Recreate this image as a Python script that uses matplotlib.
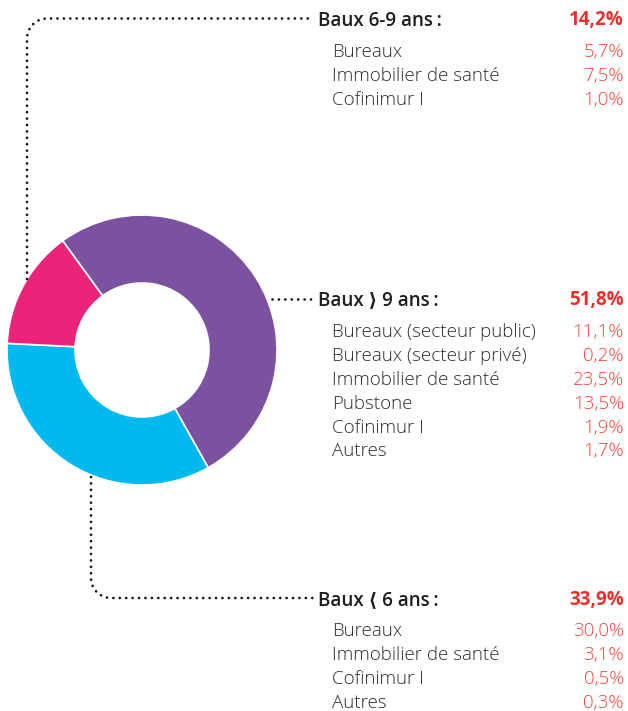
# Lease maturity donut with breakdown labels
import numpy as np
import matplotlib.pyplot as plt

W, H = 628, 711

# data
group_labels = ['Baux 6-9 ans', 'Baux \u27e9 9 ans', 'Baux \u27e8 6 ans']
group_values = [14.2, 51.8, 33.9]
group_colors = ['#ec237a', '#7b52a0', '#00b9ee']

sub_labels = [
    ['Bureaux', 'Immobilier de santé', 'Cofinimur I'],
    ['Bureaux (secteur public)', 'Bureaux (secteur privé)', 'Immobilier de santé',
     'Pubstone', 'Cofinimur I', 'Autres'],
    ['Bureaux', 'Immobilier de santé', 'Cofinimur I', 'Autres'],
]
sub_values = [
    [5.7, 7.5, 1.0],
    [11.1, 0.2, 23.5, 13.5, 1.9, 1.7],
    [30.0, 3.1, 0.5, 0.3],
]

# pixel layout (y measured from top)
header_y = [18.5, 298.5, 598]
pie_cx, pie_cy, pie_r, ring_w = 142, 350, 135, 68

plt.rcParams['font.family'] = ['Open Sans', 'DejaVu Sans']

fig = plt.figure(figsize=(W / 100, H / 100), dpi=100)
ax = fig.add_axes([0, 0, 1, 1])


def fy(y):
    return H - y


# donut: purple first from upper left, clockwise
order = [1, 2, 0]
ax.pie([group_values[i] for i in order],
       colors=[group_colors[i] for i in order],
       startangle=126, counterclock=False,
       radius=pie_r, center=(pie_cx, fy(pie_cy)),
       wedgeprops=dict(width=ring_w, edgecolor='white', linewidth=1.2))


def corner_path(x0, y_start, y_end, x_end, r=20):
    # vertical from (x0, y_start) to y_end, rounded corner, then horizontal to x_end
    sgn = -1 if y_end < y_start else 1
    t = np.linspace(0, np.pi / 2, 12)
    xs = [x0] + list(x0 + r - r * np.cos(t)) + [x_end]
    ys = [y_start] + list(y_end - sgn * r + sgn * r * np.sin(t)) + [y_end]
    return np.array(xs), np.array(ys)


dot_style = dict(color='#1a1a1a', linewidth=2.0, linestyle=(0, (0.01, 2.3)),
                 dash_capstyle='round')

x, y = corner_path(27, 279, header_y[0], 313)
ax.plot(x, [fy(v) for v in y], **dot_style)
ax.plot([272, 313], [fy(header_y[1]), fy(header_y[1])], **dot_style)
x, y = corner_path(91, 477, header_y[2], 313)
ax.plot(x, [fy(v) for v in y], **dot_style)

# labels
fs = 13.5
for i in range(3):
    base = header_y[i] + 7
    ax.text(318, fy(base), group_labels[i] + '\u2009:', fontsize=fs,
            fontweight='semibold', color='#1e1e1e', va='baseline', ha='left')
    ax.text(624, fy(base), f'{group_values[i]:.1f}%'.replace('.', ','),
            fontsize=fs, fontweight='bold', color='#e6302c',
            va='baseline', ha='right')
    for j, (lab, val) in enumerate(zip(sub_labels[i], sub_values[i])):
        yy = base + 31.5 + j * 23.9
        ax.text(332, fy(yy), lab, fontsize=fs, fontweight='light',
                color='#2e2e2e', va='baseline', ha='left')
        ax.text(624, fy(yy), f'{val:.1f}%'.replace('.', ','), fontsize=fs,
                fontweight='light', color='#f0453c', va='baseline', ha='right')

ax.set_xlim(0, W)
ax.set_ylim(0, H)
ax.set_aspect('auto')
ax.axis('off')

fig.savefig('out.png', dpi=100)
